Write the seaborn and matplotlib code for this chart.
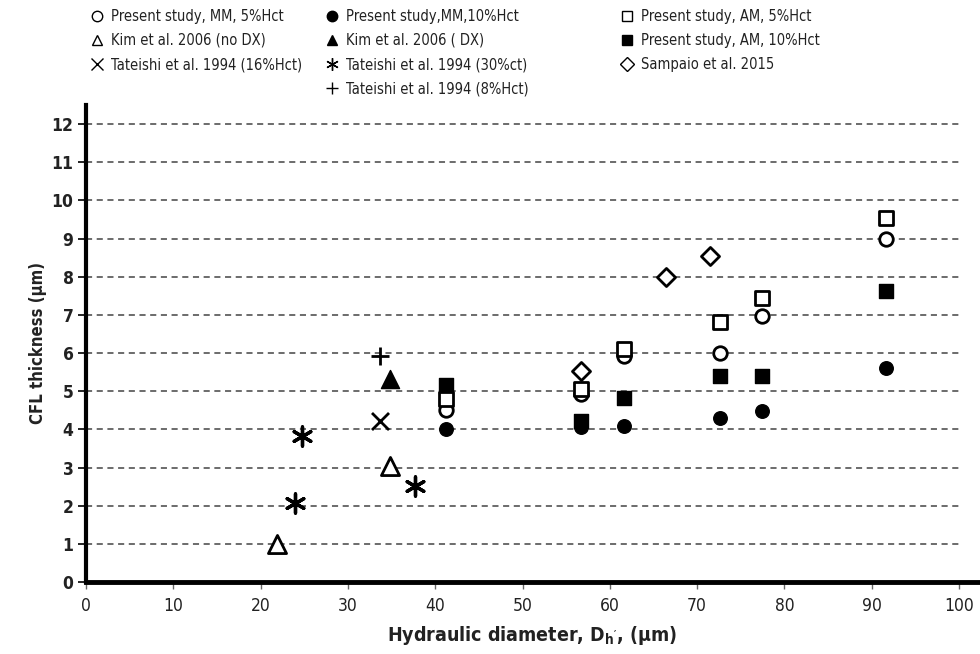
import matplotlib
matplotlib.use("Agg")
import matplotlib.pyplot as plt
from matplotlib.lines import Line2D
import seaborn as sns
import pandas as pd

# ---- data ----
dh_present = [41.2, 56.7, 61.6, 72.6, 77.4, 91.6]
mm_5 = [4.52, 4.93, 5.93, 6.00, 6.98, 9.00]
mm_10 = [4.00, 4.07, 4.08, 4.30, 4.48, 5.60]
am_5 = [4.80, 5.05, 6.10, 6.82, 7.45, 9.55]
am_10 = [5.15, 4.22, 4.83, 5.40, 5.40, 7.63]

kim_nodx_x = [21.9, 34.8]
kim_nodx_y = [1.00, 3.05]
kim_dx_x = [34.8]
kim_dx_y = [5.32]

tat16_x = [33.7]
tat16_y = [4.22]
tat30_x = [23.9, 24.7, 37.7]
tat30_y = [2.08, 3.82, 2.52]
tat8_x = [33.7]
tat8_y = [5.92]

samp_x = [56.7, 66.4, 71.5]
samp_y = [5.52, 8.00, 8.53]

labels = [
    "Present study, MM, 5%Hct",
    "Kim et al. 2006 (no DX)",
    "Tateishi et al. 1994 (16%Hct)",
    "Present study,MM,10%Hct",
    "Kim et al. 2006 ( DX)",
    "Tateishi et al. 1994 (30%ct)",
    "Tateishi et al. 1994 (8%Hct)",
    "Present study, AM, 5%Hct",
    "Present study, AM, 10%Hct",
    "Sampaio et al. 2015",
]

xticks = list(range(0, 101, 10))
yticks = list(range(0, 13))

sns.set_style("white")
plt.rcParams["font.family"] = ["DejaVu Sans"]
plt.rcParams["font.stretch"] = "condensed"

fig = plt.figure(figsize=(9.8, 6.54), dpi=100)
ax = fig.add_axes([86 / 980, 1 - 582 / 654, 1 - 86 / 980, (582 - 105) / 654])

# gridlines up to x=100
ax.hlines(yticks[1:], 0, 100, colors="#444444", linestyles=(0, (4, 3)), linewidth=1.1, zorder=1)

series = [
    # x, y, marker, facecolor, size, lw
    (dh_present, mm_5, "o", "white", 95, 2.0),
    (kim_nodx_x, kim_nodx_y, "^", "white", 170, 2.0),
    (tat16_x, tat16_y, "x", "black", 150, 2.0),
    (dh_present, mm_10, "o", "black", 95, 1.0),
    (kim_dx_x, kim_dx_y, "^", "black", 170, 1.0),
    (tat30_x, tat30_y, (6, 2, 0), "black", 190, 2.4),
    (tat8_x, tat8_y, "+", "black", 170, 2.0),
    (dh_present, am_5, "s", "white", 105, 2.0),
    (dh_present, am_10, "s", "black", 105, 1.0),
    (samp_x, samp_y, "D", "white", 85, 2.0),
]

order = [3, 8, 0, 7, 1, 4, 2, 5, 6, 9]
for i in order:
    xs, ys, m, fc, s, lw = series[i]
    df = pd.DataFrame({"x": xs, "y": ys})
    sns.scatterplot(data=df, x="x", y="y", marker=m, s=s, ax=ax,
                    color="black", facecolor=fc, edgecolor="black",
                    linewidth=lw, zorder=3, legend=False)

ax.set_xlim(0, 102.4)
ax.set_ylim(0, 12.5)
ax.set_xticks(xticks)
ax.set_yticks(yticks)
ax.set_xticklabels([str(v) for v in xticks], fontsize=12.5, color="#222222")
ax.set_yticklabels([str(v) for v in yticks], fontsize=12.5, fontweight="bold", color="#222222")
ax.tick_params(axis="x", direction="out", length=5, width=1, color="#666666", pad=6, bottom=True)
ax.tick_params(axis="y", direction="out", length=6, width=1.2, color="black", pad=3, left=True)

for side in ["top", "right"]:
    ax.spines[side].set_visible(False)
ax.spines["left"].set_linewidth(3)
ax.spines["bottom"].set_linewidth(3.5)
ax.spines["left"].set_color("black")
ax.spines["bottom"].set_color("black")

ax.set_xlabel(r"Hydraulic diameter, D$_{\mathregular{h'}}$, (μm)", fontsize=14,
              fontweight="bold", color="#222222", labelpad=6)
ax.set_ylabel("CFL thickness (μm)", fontsize=12, fontweight="bold", color="#222222", labelpad=3)
ax.xaxis.label.set_x((532 - 86) / (980 - 86))

# ---- legend as three columns ----
def handle(i):
    xs, ys, m, fc, s, lw = series[i]
    ms = 7.5 if m not in ("x", "+", (6, 2, 0)) else 9
    return Line2D([], [], linestyle="none", marker=m, markersize=ms,
                  markerfacecolor=fc, markeredgecolor="black",
                  markeredgewidth=1.0)

cols = [[0, 1, 2], [3, 4, 5, 6], [7, 8, 9]]
xpos = [88 / 980, 323 / 980, 618 / 980]
for c, xp in zip(cols, xpos):
    leg = fig.legend([handle(i) for i in c], [labels[i] for i in c],
                     loc="upper left", bbox_to_anchor=(xp, 1 - 6 / 654),
                     frameon=False, fontsize=10.5, handlelength=0.9,
                     handletextpad=0.45, labelspacing=0.62, borderpad=0.2,
                     borderaxespad=0)
    for t in leg.get_texts():
        t.set_color("#222222")

fig.savefig("out.png", dpi=100)
